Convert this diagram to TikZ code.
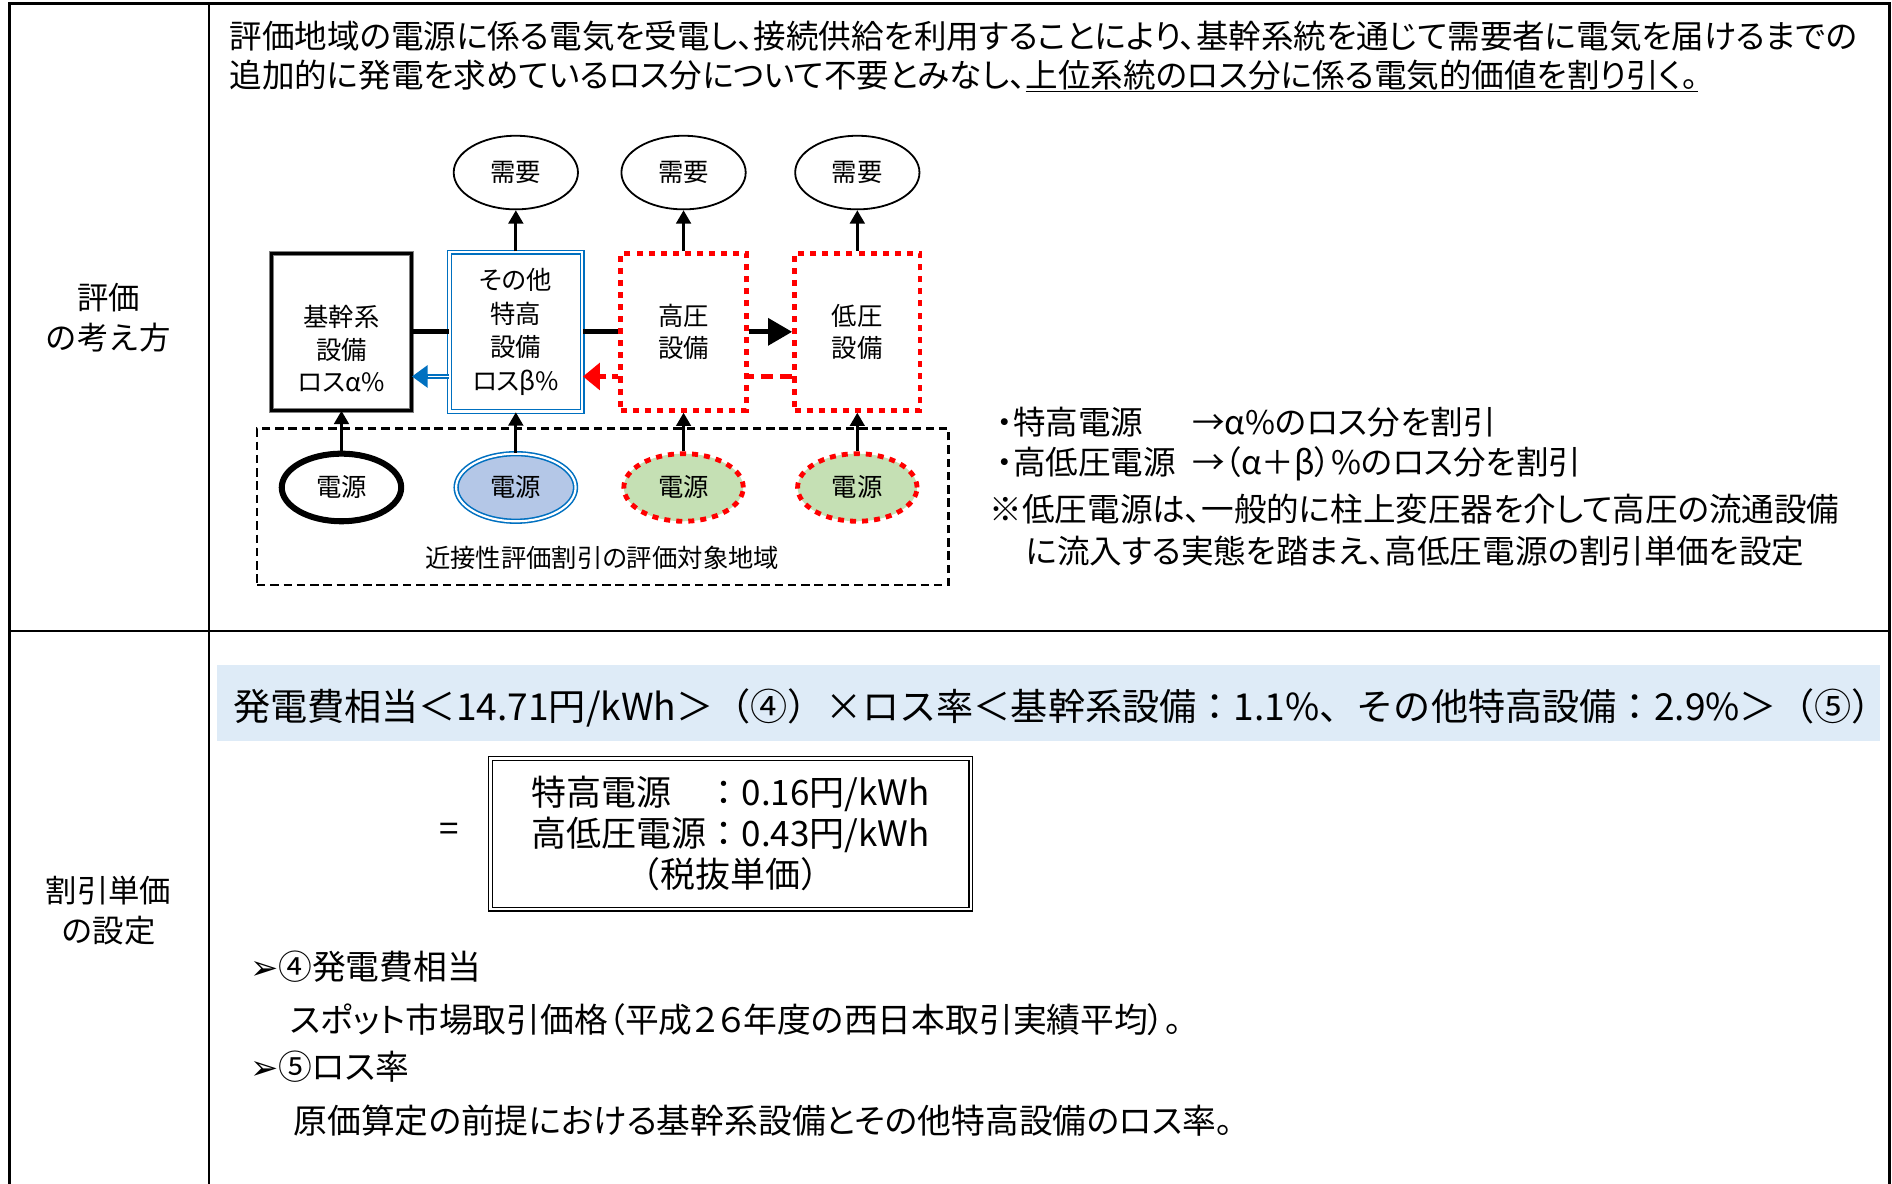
\documentclass[tikz,border=0pt]{standalone}
\usepackage{fontspec}
\setmainfont{Noto Sans CJK JP}[RawFeature=+palt]
\newfontfamily\widejp{Noto Sans CJK JP}
\newfontfamily\symfont{DejaVu Sans}
\usetikzlibrary{shapes.geometric,arrows.meta}
\definecolor{lossblue}{RGB}{0,112,192}
\definecolor{srcblue}{RGB}{180,199,231}
\definecolor{srcgreen}{RGB}{197,224,180}
\definecolor{bandblue}{RGB}{222,235,247}

\begin{document}
\begin{tikzpicture}[x=1pt,y=-1pt,
    fac/.style={draw,minimum width=#1,minimum height=130pt,inner sep=0pt,align=center,font=\fontsize{21}{27}\selectfont},
    demand/.style={draw,line width=1.5pt,ellipse,minimum width=103pt,minimum height=61pt,inner sep=0pt,font=\fontsize{21}{25}\selectfont},
    source/.style={ellipse,minimum width=99pt,minimum height=56pt,inner sep=0pt,font=\fontsize{21}{25}\selectfont},
    reddot/.style={draw=red,line width=4pt,dash pattern=on 5pt off 5pt},
    up/.style={line width=2.5pt,-{Triangle[length=11pt,width=12pt]}},
    body/.style={anchor=west,inner sep=0pt,font=\fontsize{28}{34}\selectfont}]
\clip (0,0) rectangle (1568,981);

% table frame
\draw[line width=2pt] (8,3) rectangle (1566,1000);
\draw[line width=2pt] (173,3) -- (173,1000);
\draw[line width=2pt] (8,523) -- (1566,523);
\node[font=\widejp\fontsize{26}{33}\selectfont,align=center] (hyoka) at (90,263) {評価\\の考え方};
\node[font=\widejp\fontsize{26}{33}\selectfont,align=center] (waribiki) at (90,755) {割引単価\\の設定};

\node[body,font=\fontsize{27}{34}\selectfont] (intro1) at (190,30) {評価地域の電源に係る電気を受電し、接続供給を利用することにより、基幹系統を通じて需要者に電気を届けるまでの};
\node[body,font=\fontsize{27}{34}\selectfont] (intro2) at (190,63) {追加的に発電を求めているロス分について不要とみなし、\underline{上位系統のロス分に係る電気的価値を割り引く。}};

% facilities
\node[fac=116pt,draw=gray,line width=0.8pt,double=black,double distance=2.4pt] (kikan) at (283,275) {};
\node[font=\fontsize{21}{27}\selectfont,align=center] (kikantext) at (283,289) {基幹系\\設備\\ロスα\%};
\node[fac=110pt,minimum height=132pt,draw=lossblue,line width=1.3pt,double=white,double distance=1.8pt,font=\fontsize{21}{28}\selectfont] (sonota) at (427.5,275) {その他\\特高\\設備\\ロスβ\%};
\node[fac=104pt,reddot] (koatsu) at (566.5,275) {高圧\\設備};
\node[fac=104pt,reddot] (teiatsu) at (710.5,275) {低圧\\設備};

\node[demand] (dem1) at (427.5,143) {需要};
\node[demand] (dem2) at (566.5,143) {需要};
\node[demand] (dem3) at (710.5,143) {需要};

% target area
\node[draw,line width=2pt,dash pattern=on 7pt off 4pt,minimum width=573pt,minimum height=130pt] (area) at (499.5,420) {};
\node[font=\fontsize{21}{25}\selectfont] (arealabel) at (499,462) {近接性評価割引の評価対象地域};
\node[source,draw,line width=5pt] (src1) at (283,404) {電源};
\node[source,draw=lossblue,line width=1.3pt,double=white,double distance=1.8pt,fill=srcblue] (src2) at (427.5,404) {電源};
\node[source,reddot,fill=srcgreen] (src3) at (566.5,404) {電源};
\node[source,reddot,fill=srcgreen] (src4) at (710.5,404) {電源};

\draw[line width=4pt] (kikan) -- (sonota);
\draw[line width=4pt] (sonota) -- (koatsu);
\draw[line width=4pt,-{Triangle[length=20pt,width=22pt]}] (koatsu) -- (teiatsu);
\draw[lossblue,line width=4pt,-{Triangle[length=13pt,width=18pt]}] ([yshift=-37pt]sonota.west) -- ([yshift=-37pt]kikan.east);
\draw[white,line width=1.2pt] ([yshift=-37pt]sonota.west) -- ([yshift=-37pt,xshift=13pt]kikan.east);
\draw[red,line width=4pt,dash pattern=on 10pt off 6pt] ([yshift=-37pt]teiatsu.west) -- ([yshift=-37pt]koatsu.east);
\draw[red,line width=4pt,dash pattern=on 5pt off 5pt,-{Triangle[length=14pt,width=22pt]}] ([yshift=-37pt]koatsu.west) -- ([yshift=-37pt]sonota.east);
\foreach \b/\d in {sonota/dem1,koatsu/dem2,teiatsu/dem3}
    \draw[up] (\b) -- (\d);
\foreach \s/\b in {src1/kikan,src2/sonota,src3/koatsu,src4/teiatsu}
    \draw[up] (\s) -- (\b);

\node[body,font=\fontsize{27}{32}\selectfont] (note1) at (826,350) {\makebox[162pt][l]{・特高電源}→α\%のロス分を割引};
\node[body,font=\fontsize{27}{32}\selectfont] (note2) at (826,384) {\makebox[162pt][l]{・高低圧電源}→（α＋β）\%のロス分を割引};
\node[body,font=\fontsize{27}{32}\selectfont] (note3) at (820,422) {※低圧電源は、一般的に柱上変圧器を介して高圧の流通設備};
\node[body,font=\fontsize{27}{32}\selectfont] (note4) at (850,457) {に流入する実態を踏まえ、高低圧電源の割引単価を設定};

% unit price
\node[fill=bandblue,minimum width=1378pt,minimum height=63pt,inner sep=0pt] (band) at (869,582.5) {};
\node[body,font=\widejp\fontsize{30.8}{34}\selectfont] (formula) at (193,587) {発電費相当＜14.71円/kWh＞（④）×ロス率＜基幹系設備：1.1\%、その他特高設備：2.9\%＞（⑤）};
\node[font=\widejp\fontsize{29}{34}\selectfont] (equals) at (372,690) {=};
\node[draw,line width=1.2pt,double=white,double distance=2pt,minimum width=398pt,minimum height=125pt,inner sep=0pt,align=center,font=\widejp\fontsize{29}{34}\selectfont] (result) at (605.5,691) {\makebox[5em][l]{特高電源}：0.16円/kWh\\高低圧電源：0.43円/kWh\\（税抜単価）};

\node[body] (item4) at (207,801) {{\symfont ➢}④発電費相当};
\node[body] (item4text) at (240,845) {スポット市場取引価格（平成２６年度の西日本取引実績平均）。};
\node[body] (item5) at (207,884) {{\symfont ➢}⑤ロス率};
\node[body] (item5text) at (243,929) {原価算定の前提における基幹系設備とその他特高設備のロス率。};
\end{tikzpicture}
\end{document}
